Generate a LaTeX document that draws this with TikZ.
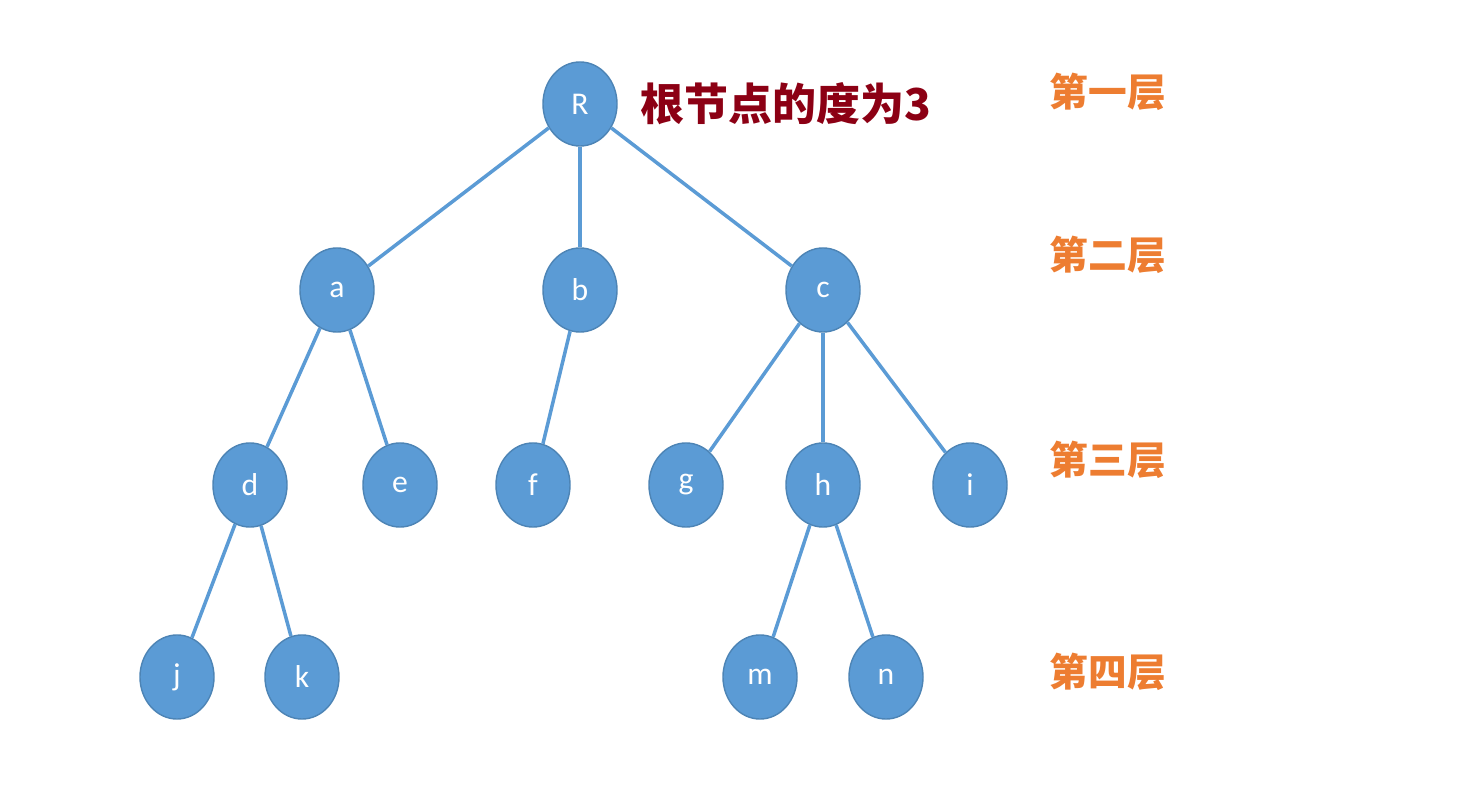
\documentclass[tikz,border=0pt]{standalone}
\usepackage{fontspec}
\setsansfont{Carlito}
\newfontfamily\cjk{Noto Sans CJK SC}
\usetikzlibrary{shapes.geometric}
\definecolor{nodeblue}{RGB}{91,155,213}
\definecolor{edgeblue}{RGB}{91,155,213}
\definecolor{levelorange}{RGB}{237,125,49}
\definecolor{degreered}{RGB}{140,0,20}
\tikzset{
    treenode/.style={ellipse, draw=nodeblue!85!black, fill=nodeblue, minimum width=0.74cm, minimum height=0.84cm, inner sep=0pt, text=white, font=\sffamily\small},
    treeedge/.style={draw=edgeblue, line width=1pt},
    levellabel/.style={text=levelorange, font=\cjk\bfseries\fontsize{11}{13}\selectfont}
}
\begin{document}
\begin{tikzpicture}[x=0.01cm, y=-0.01cm]
    \useasboundingbox (0,0) rectangle (1473,798);

    % Level 1
    \node[treenode] (R) at (580,104) {R};
    \node[anchor=west, text=degreered, font=\cjk\bfseries\fontsize{12.5}{15}\selectfont] (deg) at (628,104) {根节点的度为3};

    % Level 2
    \node[treenode] (a) at (337,290) {a};
    \node[treenode] (b) at (580,290) {b};
    \node[treenode] (c) at (823,290) {c};

    % Level 3
    \node[treenode] (d) at (250,485) {d};
    \node[treenode] (e) at (400,485) {e};
    \node[treenode] (f) at (533,485) {f};
    \node[treenode] (g) at (686,485) {g};
    \node[treenode] (h) at (823,485) {h};
    \node[treenode] (i) at (970,485) {i};

    % Level 4
    \node[treenode] (j) at (177,677) {j};
    \node[treenode] (k) at (302,677) {k};
    \node[treenode] (m) at (760,677) {m};
    \node[treenode] (n) at (886,677) {n};

    % Edges
    \foreach \from/\to in {R/a, R/b, R/c, a/d, a/e, b/f, c/g, c/h, c/i, d/j, d/k, h/m, h/n}
        \draw[treeedge] (\from) -- (\to);

    % Level labels
    \node[levellabel] (l1) at (1108,92) {第一层};
    \node[levellabel] (l2) at (1108,255) {第二层};
    \node[levellabel] (l3) at (1108,460) {第三层};
    \node[levellabel] (l4) at (1108,672) {第四层};

\end{tikzpicture}
\end{document}
